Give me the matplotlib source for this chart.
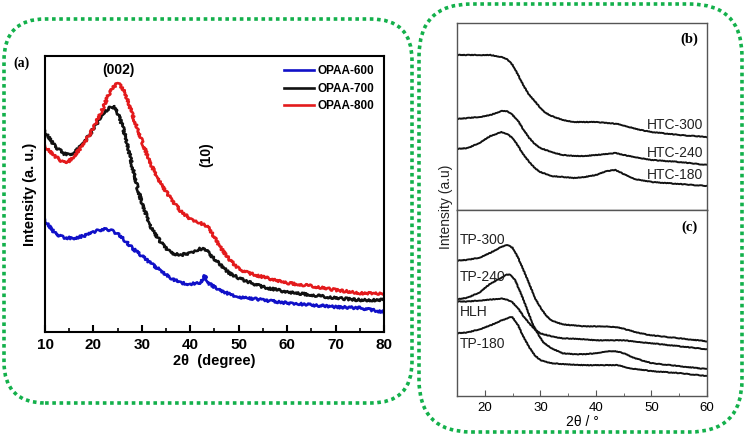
import matplotlib
matplotlib.use("Agg")
import matplotlib.pyplot as plt
from matplotlib.patches import FancyBboxPatch
from matplotlib.ticker import MultipleLocator
from matplotlib.font_manager import FontProperties

# ---------------- Panel (a) data ----------------
a_x = [10, 12, 14, 15, 16, 18, 20, 22, 23, 24, 25, 26, 27, 28, 29, 30, 31, 32, 34, 36, 38, 40,
       42, 43, 44, 46, 48, 50, 52, 55, 60, 65, 70, 75, 80]
opaa_600 = [112, 99, 94, 94, 94, 96, 100, 103, 102, 101, 98, 94, 89, 84, 80, 76, 72, 68, 61, 54, 49, 48,
            49, 56, 48, 42, 38, 35, 34, 32, 29, 27, 25, 24, 20]
opaa_700 = [201, 186, 178, 178, 179, 189, 203, 219, 223, 226, 219, 206, 188, 166, 146, 129, 116, 104, 89, 79, 77, 79,
            83, 83, 78, 68, 59, 54, 50, 45, 40, 37, 34, 32, 32]
opaa_800 = [186, 176, 169, 171, 176, 188, 204, 224, 236, 244, 249, 244, 233, 218, 204, 191, 178, 166, 148, 133, 121, 113,
            109, 107, 103, 86, 73, 63, 59, 55, 49, 46, 42, 39, 38]
a_labels = ["OPAA-600", "OPAA-700", "OPAA-800"]
a_colors = ["#1010c8", "#111111", "#e31a1c"]

# ---------------- Panel (b) data ----------------
htc300_x = [15, 19, 21, 23, 24, 25, 26, 27, 28, 29, 30, 31, 32, 34, 36, 38, 40, 42, 44, 46, 48, 50, 55, 60]
htc300_y = [155, 155, 155, 153, 151, 145, 135, 124, 115, 109, 102, 97, 94, 90, 88, 88, 88, 87, 86, 83, 80, 78, 75, 73]
htc240_x = [15, 19, 21, 23, 24, 25, 26, 27, 28, 29, 30, 32, 34, 36, 38, 40, 42, 43.5, 45, 47, 50, 55, 60]
htc240_y = [91, 93, 95, 99, 99, 95, 89, 80, 72, 66, 62, 58, 55, 54, 54, 55, 56, 57, 55, 53, 50, 48, 45]
htc180_x = [15, 17, 19, 21, 23, 24, 25, 26, 27, 28, 29, 30, 32, 34, 36, 38, 40, 42, 43.5, 45, 47, 50, 55, 60]
htc180_y = [61, 62, 67, 74, 78, 76, 72, 64, 55, 48, 42, 38, 34, 33, 32, 33, 35, 39, 40, 36, 31, 28, 26, 24]

# ---------------- Panel (c) data ----------------
tp300_x = [15, 17, 19, 21, 23, 24, 25, 26, 27, 28, 29, 30, 31, 32, 34, 36, 38, 40, 42, 44, 46, 48, 50, 55, 60]
tp300_y = [136, 137, 139, 144, 150, 152, 149, 139, 126, 113, 99, 89, 81, 76, 72, 71, 70, 70, 70, 69, 66, 63, 61, 58, 55]
tp240_x = [15, 17, 19, 21, 23, 24, 24.6, 25.5, 26.5, 27.5, 28.5, 29.5, 30.5, 32, 34, 36, 38, 40, 42, 43.5, 45, 47, 50, 55, 60]
tp240_y = [97, 99, 104, 113, 119, 122, 122, 116, 103, 89, 74, 63, 54, 48, 43, 42, 42, 43, 45, 45, 43, 38, 33, 30, 27]
hlh_x = [15, 17, 19, 21, 23, 24, 25, 26, 27, 28, 29, 30, 32, 34, 38, 40, 45, 50, 55, 60]
hlh_y = [95, 95, 96, 97, 98, 97, 94, 88, 80, 73, 67, 63, 60, 58, 57, 56, 56, 53, 50, 47]
tp180_x = [15, 17, 19, 21, 23, 24.5, 25, 26, 27, 28, 29, 30, 32, 34, 38, 40, 44, 46, 50, 55, 60]
tp180_y = [63, 64, 67, 71, 76, 79, 79, 71, 59, 49, 41, 36, 33, 32, 31, 31, 31, 28, 25, 23, 20]

W, H = 747, 436
fig = plt.figure(figsize=(W / 100, H / 100), dpi=100)

def fx(px):
    return px / W

def fy(py):
    return 1 - py / H

# green dotted rounded frames
green = "#13b04b"
for (x0, y0, x1, y1, r) in [(4, 19, 412, 403, 0.055), (419, 4, 742, 432, 0.07)]:
    p = FancyBboxPatch((fx(x0), fy(y1)), fx(x1) - fx(x0), fy(y0) - fy(y1),
                       boxstyle=f"round,pad=0,rounding_size={r}",
                       transform=fig.transFigure, fill=False, edgecolor=green,
                       linewidth=2.6, linestyle=(0, (1, 1)), mutation_aspect=W / H)
    fig.patches.append(p)

# ---------------- Panel (a) ----------------
bold_sans = dict(family="Liberation Sans", weight="bold")
axa = fig.add_axes([fx(45), fy(332), fx(384) - fx(45), fy(56) - fy(332)])
for yv, lab, col in zip([opaa_600, opaa_700, opaa_800], a_labels, a_colors):
    ln, = axa.plot(a_x, yv, color=col, lw=1.9, label=lab)
    ln.set_sketch_params(scale=1.2, length=2.5, randomness=4)
axa.set_xlim(10, 80)
axa.set_ylim(0, 276)
axa.set_yticks([])
axa.xaxis.set_major_locator(MultipleLocator(10))
axa.xaxis.set_minor_locator(MultipleLocator(5))
axa.tick_params(axis="x", which="major", direction="in", length=5, width=1.5, pad=4)
axa.tick_params(axis="x", which="minor", direction="in", length=3, width=1.2)
for lbl in axa.get_xticklabels():
    lbl.set_fontproperties(FontProperties(family="Liberation Sans", weight="bold", size=11))
for s in axa.spines.values():
    s.set_linewidth(1.5)
axa.set_xlabel("2θ  (degree)", fontsize=10.5, labelpad=2, **bold_sans)
axa.set_ylabel("Intensity (a. u.)", fontsize=10.5, labelpad=6, **bold_sans)
leg = axa.legend(loc="upper right", frameon=False, handlelength=2.6, handletextpad=0.3,
                 labelspacing=0.45, borderaxespad=0.4,
                 prop=dict(family="Liberation Sans", weight="bold", size=8.5))
for h in leg.legend_handles:
    h.set_sketch_params(None)
axa.text(25.2, 262, "(002)", ha="center", va="center", fontsize=10, **bold_sans)
axa.text(43.2, 177, "(10)", ha="center", va="center", rotation=90, fontsize=10, **bold_sans)
fig.text(fx(21), fy(63), "(a)", ha="center", va="center", fontsize=10,
         family="Liberation Serif", weight="bold")

# ---------------- Panels (b) and (c) ----------------
gray = "#555555"
axb = fig.add_axes([fx(457), fy(210), fx(707) - fx(457), fy(23) - fy(210)])
axc = fig.add_axes([fx(457), fy(396), fx(707) - fx(457), fy(210) - fy(396)])
for ax in (axb, axc):
    ax.set_xlim(15, 60)
    ax.set_ylim(0, 187)
    ax.set_yticks([])
    for s in ax.spines.values():
        s.set_color(gray)
        s.set_linewidth(1.0)
    ax.xaxis.set_major_locator(MultipleLocator(10))
    ax.xaxis.set_minor_locator(MultipleLocator(5))
    ax.tick_params(axis="x", which="major", direction="in", length=4, color=gray,
                   labelsize=9.5, pad=4)
    ax.tick_params(axis="x", which="minor", direction="in", length=2.5, color=gray)
    for lbl in ax.get_xticklabels():
        lbl.set_family("Liberation Sans")
axb.tick_params(axis="x", which="both", length=0, labelbottom=False)

lw_bc = 1.4
for xs, ys in [(htc300_x, htc300_y), (htc240_x, htc240_y), (htc180_x, htc180_y)]:
    ln, = axb.plot(xs, ys, color="#111111", lw=lw_bc)
    ln.set_sketch_params(scale=0.3, length=1.5, randomness=2)
lab_kw = dict(family="Liberation Sans", fontsize=10, color="#222222")
axb.text(59.3, 85, "HTC-300", ha="right", va="center", **lab_kw)
axb.text(59.3, 57, "HTC-240", ha="right", va="center", **lab_kw)
axb.text(59.3, 35, "HTC-180", ha="right", va="center", **lab_kw)
axb.text(0.93, 0.915, "(b)", transform=axb.transAxes, ha="center", va="center",
         fontsize=10.5, family="Liberation Serif", weight="bold")

for xs, ys in [(tp300_x, tp300_y), (tp240_x, tp240_y), (hlh_x, hlh_y), (tp180_x, tp180_y)]:
    ln, = axc.plot(xs, ys, color="#111111", lw=lw_bc)
    ln.set_sketch_params(scale=0.3, length=1.5, randomness=2)
axc.text(15.5, 157, "TP-300", ha="left", va="center", **lab_kw)
axc.text(15.5, 120, "TP-240", ha="left", va="center", **lab_kw)
axc.text(15.5, 84, "HLH", ha="left", va="center", **lab_kw)
axc.text(15.5, 52, "TP-180", ha="left", va="center", **lab_kw)
axc.text(0.93, 0.905, "(c)", transform=axc.transAxes, ha="center", va="center",
         fontsize=10.5, family="Liberation Serif", weight="bold")
axc.set_xlabel("2θ / °", fontsize=10, family="Liberation Sans", labelpad=1)

fig.text(fx(446), fy(207), "Intensity (a.u)", rotation=90, ha="center", va="center",
         fontsize=10, family="Liberation Sans", color="#222222")

fig.savefig("out.png", dpi=100)
